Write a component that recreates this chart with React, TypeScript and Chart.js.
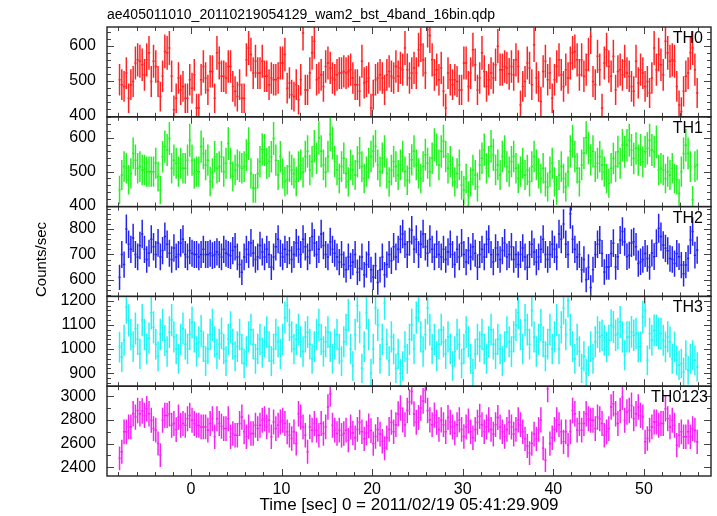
import { useEffect, useRef } from "react";
import { Chart, registerables } from "chart.js";

Chart.register(...registerables);

const TITLE = "ae405011010_20110219054129_wam2_bst_4band_16bin.qdp";
const X_TITLE = "Time [sec] 0 = 2011/02/19 05:41:29.909";
const Y_TITLE = "Counts/sec";
const PANEL_NAMES = ["TH0", "TH1", "TH2", "TH3", "TH0123"];
const X_TICK_LABELS = [0, 10, 20, 30, 40, 50];
const Y_TICK_LABELS = [
  [400, 500, 600],
  [400, 500, 600],
  [600, 700, 800],
  [900, 1000, 1100, 1200],
  [2400, 2600, 2800, 3000],
];

const BIN_START = -7.875;
const BIN_WIDTH = 0.25;
const X_MIN = -9.26;
const X_MAX = 57.4;

const TH0 = [
  503, 489, 484, 522, 450, 489, 498, 551, 560, 556, 546, 517, 560, 580, 498, 556,
  541, 498, 455, 513, 584, 580, 594, 513, 417, 450, 508, 474, 484, 450, 450, 503,
  479, 517, 422, 422, 503, 541, 508, 474, 527, 527, 450, 580, 551, 513, 513, 508,
  541, 541, 484, 470, 455, 489, 450, 450, 560, 594, 575, 522, 556, 522, 522, 556,
  513, 513, 489, 508, 503, 503, 508, 551, 551, 575, 479, 494, 460, 455, 489, 446,
  503, 637, 474, 474, 522, 580, 613, 503, 508, 517, 484, 541, 551, 537, 508, 503,
  517, 522, 522, 527, 522, 527, 532, 508, 489, 489, 470, 556, 494, 498, 508, 422,
  460, 503, 508, 517, 508, 474, 517, 527, 513, 508, 541, 513, 537, 532, 594, 532,
  508, 522, 537, 522, 589, 603, 560, 522, 646, 630, 560, 517, 532, 503, 537, 470,
  422, 522, 503, 489, 503, 498, 474, 474, 551, 551, 484, 522, 589, 546, 474, 508,
  580, 527, 484, 503, 522, 508, 546, 599, 532, 532, 541, 537, 520, 541, 517, 560,
  541, 431, 484, 498, 551, 537, 489, 603, 508, 484, 441, 527, 556, 503, 522, 450,
  503, 541, 560, 517, 484, 532, 508, 551, 580, 584, 560, 517, 560, 513, 532, 575,
  627, 498, 489, 570, 532, 422, 551, 589, 541, 513, 570, 474, 527, 532, 517, 556,
  522, 513, 484, 470, 556, 494, 532, 522, 484, 498, 465, 508, 594, 532, 575, 546,
  517, 613, 580, 556, 560, 556, 484, 431, 412, 470, 513, 522, 580, 594, 532, 465,
];

const TH1 = [
  446, 490, 515, 510, 476, 495, 554, 534, 510, 515, 505, 505, 500, 500, 500, 500,
  525, 486, 446, 544, 574, 564, 598, 510, 534, 525, 500, 525, 510, 510, 534, 593,
  534, 495, 500, 500, 574, 554, 520, 534, 471, 495, 544, 510, 515, 544, 500, 525,
  583, 525, 486, 505, 520, 515, 510, 515, 549, 583, 495, 451, 451, 495, 530, 566,
  564, 525, 530, 544, 598, 534, 490, 544, 495, 471, 476, 515, 505, 495, 471, 515,
  520, 498, 545, 560, 505, 530, 575, 540, 600, 560, 520, 498, 545, 610, 585, 530,
  505, 480, 515, 540, 495, 470, 520, 505, 490, 530, 555, 515, 480, 500, 525, 545,
  560, 575, 520, 500, 540, 560, 495, 470, 505, 530, 515, 490, 520, 545, 500, 475,
  510, 535, 560, 520, 495, 480, 515, 550, 525, 500, 540, 580, 565, 520, 560, 590,
  545, 510, 530, 500, 470, 495, 520, 460, 445, 480, 430, 470, 505, 490, 455, 520,
  540, 565, 510, 530, 575, 550, 505, 520, 490, 545, 560, 515, 500, 530, 545, 510,
  480, 500, 525, 490, 505, 470, 515, 545, 520, 495, 480, 510, 470, 455, 500, 525,
  470, 445, 490, 515, 480, 455, 500, 560, 590, 545, 510, 470, 520, 555, 600, 570,
  535, 560, 515, 525, 544, 520, 500, 480, 466, 510, 539, 515, 559, 525, 578, 559,
  578, 593, 564, 539, 569, 534, 564, 529, 559, 569, 593, 564, 559, 588, 505, 510,
  505, 480, 500, 490, 510, 480, 476, 436, 500, 554, 578, 554, 515, 417, 515, 520,
];

const TH2 = [
  610, 700, 660, 800, 740, 720, 765, 700, 690, 735, 780, 720, 680, 705, 760, 730,
  700, 745, 690, 715, 770, 740, 705, 680, 725, 690, 700, 745, 760, 700, 690, 715,
  705, 700, 700, 690, 700, 720, 700, 700, 705, 695, 700, 710, 700, 690, 720, 705,
  700, 695, 715, 730, 690, 660, 630, 690, 720, 700, 745, 705, 680, 690, 735, 710,
  690, 720, 700, 650, 690, 730, 760, 705, 690, 720, 700, 715, 680, 700, 745, 720,
  700, 760, 730, 690, 715, 770, 745, 700, 720, 780, 735, 700, 690, 750, 720, 705,
  690, 670, 700, 660, 640, 690, 655, 670, 700, 630, 645, 690, 620, 660, 700, 640,
  610, 655, 590, 640, 690, 620, 660, 700, 675, 730, 690, 720, 760, 780, 740, 700,
  750, 795, 720, 760, 700, 740, 780, 730, 705, 760, 720, 690, 740, 700, 690, 720,
  680, 710, 740, 700, 660, 720, 690, 745, 700, 670, 715, 690, 730, 705, 650, 700,
  720, 690, 740, 760, 700, 670, 725, 700, 680, 715, 745, 690, 700, 730, 680, 700,
  660, 700, 725, 690, 650, 700, 740, 710, 670, 690, 720, 760, 700, 680, 700, 740,
  720, 690, 780, 760, 820, 740, 700, 860, 760, 720, 690, 700, 640, 680, 600, 650,
  570, 640, 700, 740, 757, 704, 631, 651, 651, 704, 744, 651, 691, 757, 790, 750,
  691, 697, 744, 750, 730, 664, 671, 680, 704, 684, 651, 706, 691, 744, 803, 770,
  737, 724, 714, 684, 680, 664, 704, 691, 658, 624, 658, 684, 757, 790, 697, 717,
];

const TH3 = [
  1008, 967, 1036, 1174, 1119, 1060, 1010, 1085, 1040, 980, 1120, 1060, 1000, 1045, 1150, 1090,
  1020, 970, 1060, 1100, 1035, 990, 1070, 1120, 1050, 1000, 960, 1040, 1085, 1020, 1000, 1060,
  1110, 1050, 990, 1030, 1075, 1010, 950, 1000, 1060, 1100, 1030, 980, 1020, 1065, 1000, 950,
  1040, 1090, 1020, 970, 1010, 1060, 1000, 940, 990, 1050, 1080, 1020, 960, 1000, 1040, 985,
  1030, 1070, 1010, 950, 1000, 1060, 1030, 980, 1040, 1130, 1180, 1100, 1050, 1000, 1040, 1080,
  1030, 990, 1050, 1070, 1020, 960, 1010, 1060, 1100, 1040, 990, 1030, 1070, 1010, 960, 1020,
  1060, 1000, 950, 1030, 1080, 1140, 1000, 930, 1060, 1180, 1090, 920, 1010, 1150, 1060, 900,
  1000, 1170, 1100, 960, 1040, 1190, 1020, 950, 1050, 1000, 920, 980, 900, 930, 1010, 960,
  1040, 1100, 1000, 1130, 1180, 1050, 990, 1060, 1170, 1080, 1000, 1040, 970, 1020, 1080, 1030,
  980, 1050, 1000, 930, 990, 1060, 1020, 940, 1000, 1070, 1030, 960, 900, 980, 1040, 1010,
  1060, 1000, 960, 1030, 1080, 1020, 980, 1040, 1000, 950, 1010, 1070, 1030, 990, 1050, 1100,
  1150, 1060, 1000, 1120, 1080, 1020, 1160, 1050, 990, 1040, 1100, 1030, 970, 1020, 1080, 1000,
  1050, 1120, 1000, 1090, 1170, 1060, 1200, 1080, 1010, 960, 1040, 990, 920, 970, 900, 950,
  1010, 960, 1030, 1070, 1050, 1057, 1036, 1009, 1036, 1098, 1091, 1057, 1064, 1112, 1050, 974,
  1050, 1050, 1071, 1057, 1064, 1009, 1009, 1133, 1160, 953, 1064, 1036, 1077, 1077, 1064, 1064,
  1036, 1009, 1050, 1029, 960, 1009, 953, 933, 940, 905, 974, 912, 960, 974, 953, 926,
];

const TH0123 = [
  2476, 2531, 2699, 2699, 2741, 2741, 2852, 2824, 2880, 2852, 2875, 2838, 2894, 2852, 2797, 2727,
  2713, 2601, 2504, 2797, 2838, 2838, 2852, 2755, 2769, 2718, 2824, 2755, 2769, 2755, 2810, 2838,
  2797, 2769, 2755, 2755, 2741, 2741, 2741, 2713, 2769, 2810, 2657, 2810, 2769, 2746, 2727, 2727,
  2810, 2657, 2685, 2671, 2671, 2769, 2824, 2699, 2657, 2741, 2685, 2685, 2755, 2727, 2755, 2797,
  2810, 2741, 2797, 2657, 2783, 2727, 2755, 2783, 2797, 2769, 2699, 2671, 2643, 2699, 2601, 2852,
  2824, 2741, 2671, 2531, 2741, 2713, 2769, 2713, 2671, 2769, 2685, 2741, 2908, 3020, 2755, 2713,
  2685, 2713, 2671, 2685, 2713, 2629, 2740, 2690, 2650, 2720, 2780, 2700, 2640, 2690, 2750, 2710,
  2600, 2660, 2720, 2680, 2620, 2560, 2650, 2720, 2780, 2700, 2760, 2850, 2900, 2800, 2760, 2880,
  2950, 3040, 2850, 2780, 2820, 2900, 2960, 3050, 2880, 2800, 2760, 2840, 2780, 2720, 2800, 2760,
  2700, 2820, 2780, 2740, 2690, 2760, 2800, 2720, 2660, 2740, 2790, 2700, 2650, 2720, 2780, 2830,
  2760, 2700, 2740, 2800, 2720, 2680, 2760, 2820, 2740, 2700, 2660, 2720, 2780, 2740, 2680, 2720,
  2800, 2760, 2700, 2640, 2580, 2520, 2600, 2680, 2640, 2720, 2800, 2560, 2460, 3060, 2600, 2650,
  2720, 2800, 2760, 2699, 2615, 2699, 2587, 2699, 2880, 2852, 2713, 2769, 2713, 2769, 2852, 2810,
  2797, 2797, 2727, 2824, 2810, 2769, 2671, 2699, 2727, 2908, 2936, 2852, 2769, 2880, 2992, 2797,
  2866, 2880, 2922, 2810, 2852, 2908, 2838, 2824, 2615, 2643, 2713, 2741, 2783, 2783, 2755, 2769,
  2769, 2894, 2810, 2741, 2797, 2755, 2587, 2671, 2699, 2657, 2657, 2699, 2657, 2727, 2713, 2615,
];

const SERIES = [TH0, TH1, TH2, TH3, TH0123];
const COLORS = ["#ff2424", "#24f024", "#2424f0", "#24f4f4", "#f424f4"];
const Y_MIN = [397, 397, 535, 846, 2327];
const Y_MAX = [654, 662, 888, 1218, 3084];
const Y_MINOR = [20, 20, 20, 20, 100];
const NAME_RIGHT_INSET = [8, 8, 8, 8, 3];

const FONT = "'Liberation Sans', Arial, sans-serif";

const qdpPlugin = {
  id: "qdpPanels",
  afterDatasetsDraw(chart: any) {
    const ctx: CanvasRenderingContext2D = chart.ctx;
    const xs = chart.scales.x;
    const { left, right } = chart.chartArea;
    SERIES.forEach((values, k) => {
      const ys = chart.scales["y" + k];
      const top = ys.top;
      const bottom = ys.bottom;
      const meta = chart.getDatasetMeta(k);
      // error bars (bin width horizontally, Poisson error vertically)
      ctx.save();
      ctx.beginPath();
      ctx.rect(left, top, right - left, bottom - top);
      ctx.clip();
      ctx.strokeStyle = COLORS[k];
      ctx.lineWidth = 1.5;
      ctx.beginPath();
      meta.data.forEach((pt: any, i: number) => {
        const v = values[i];
        const t = BIN_START + i * BIN_WIDTH;
        const err = Math.sqrt(v * BIN_WIDTH) / BIN_WIDTH;
        const x0 = xs.getPixelForValue(t - BIN_WIDTH / 2);
        const x1 = xs.getPixelForValue(t + BIN_WIDTH / 2);
        ctx.moveTo(x0, pt.y);
        ctx.lineTo(x1, pt.y);
        ctx.moveTo(pt.x, ys.getPixelForValue(v - err));
        ctx.lineTo(pt.x, ys.getPixelForValue(v + err));
      });
      ctx.stroke();
      ctx.restore();

      // ticks
      ctx.save();
      ctx.strokeStyle = "#444";
      ctx.lineWidth = 1;
      ctx.beginPath();
      const minor = Y_MINOR[k];
      const majors = Y_TICK_LABELS[k];
      for (let v = Math.ceil(Y_MIN[k] / minor) * minor; v <= Y_MAX[k]; v += minor) {
        const y = Math.round(ys.getPixelForValue(v)) + 0.5;
        const len = majors.includes(v) ? 7 : 4;
        ctx.moveTo(left, y);
        ctx.lineTo(left + len, y);
        ctx.moveTo(right, y);
        ctx.lineTo(right - len, y);
      }
      for (let t = Math.ceil(X_MIN / 2) * 2; t <= X_MAX; t += 2) {
        const x = Math.round(xs.getPixelForValue(t)) + 0.5;
        const len = t % 10 === 0 ? 7 : 4;
        ctx.moveTo(x, top);
        ctx.lineTo(x, top + len);
        ctx.moveTo(x, bottom);
        ctx.lineTo(x, bottom - len);
      }
      ctx.stroke();
      // frame
      ctx.strokeStyle = "#222";
      ctx.lineWidth = 1.4;
      ctx.strokeRect(left, top, right - left, bottom - top);
      // panel name
      ctx.fillStyle = "#000";
      ctx.font = "16px " + FONT;
      ctx.textAlign = "right";
      ctx.textBaseline = "alphabetic";
      ctx.fillText(PANEL_NAMES[k], right - NAME_RIGHT_INSET[k], top + 16);
      ctx.restore();
    });
    // y title
    ctx.save();
    ctx.fillStyle = "#000";
    ctx.font = "15px " + FONT;
    ctx.translate(42, 259.5);
    ctx.rotate(-Math.PI / 2);
    ctx.textAlign = "center";
    ctx.textBaseline = "middle";
    ctx.fillText(Y_TITLE, 0, 0);
    ctx.restore();
  },
};

export default function App() {
  const canvasRef = useRef<HTMLCanvasElement | null>(null);

  useEffect(() => {
    const canvas = canvasRef.current;
    if (!canvas) return;
    const tickFont = { family: FONT, size: 16, weight: "normal" as const };
    const scales: any = {
      x: {
        type: "linear",
        min: X_MIN,
        max: X_MAX,
        grid: { display: false, drawTicks: false },
        border: { display: false },
        afterBuildTicks: (s: any) => {
          s.ticks = X_TICK_LABELS.map((v) => ({ value: v }));
        },
        ticks: {
          color: "#000",
          font: tickFont,
          padding: 4,
          maxRotation: 0,
          autoSkip: false,
          callback: (v: any) => String(v),
        },
        title: {
          display: true,
          text: X_TITLE,
          color: "#000",
          font: { family: FONT, size: 17, weight: "normal" },
          padding: { top: 0, bottom: 0 },
        },
        afterFit: (s: any) => {
          s.height = 40;
        },
      },
    };
    SERIES.forEach((_, k) => {
      scales["y" + k] = {
        type: "linear",
        position: "left",
        stack: "panels",
        stackWeight: 1,
        weight: 10 - k,
        min: Y_MIN[k],
        max: Y_MAX[k],
        grid: { display: false, drawTicks: false },
        border: { display: false },
        afterBuildTicks: (s: any) => {
          s.ticks = Y_TICK_LABELS[k].map((v) => ({ value: v }));
        },
        ticks: {
          padding: 11,
          color: "#000",
          font: tickFont,
          autoSkip: false,
          callback: (v: any) => String(v),
        },
        afterFit: (s: any) => {
          s.width = 107;
        },
      };
    });

    const chart = new Chart(canvas, {
      type: "line",
      data: {
        datasets: SERIES.map((values, k) => ({
          label: PANEL_NAMES[k],
          data: values.map((v, i) => ({ x: BIN_START + i * BIN_WIDTH, y: v })),
          yAxisID: "y" + k,
          showLine: false,
          pointRadius: 0,
          pointHoverRadius: 0,
          borderColor: COLORS[k],
          backgroundColor: COLORS[k],
        })),
      },
      options: {
        animation: false,
        responsive: false,
        devicePixelRatio: 1,
        events: [],
        layout: { padding: { left: 0, right: 6, top: 0, bottom: 0 } },
        plugins: {
          legend: { display: false },
          tooltip: { enabled: false },
          title: {
            display: true,
            text: TITLE,
            align: "start",
            fullSize: false,
            color: "#000",
            font: { family: FONT, size: 14, weight: "normal" },
            padding: { top: 6.5, bottom: 3.7 },
          },
        },
        scales,
      } as any,
      plugins: [qdpPlugin],
    });
    return () => chart.destroy();
  }, []);

  return (
    <div style={{ position: "fixed", left: 0, top: 0, width: 717, height: 516, background: "#fff" }}>
      <canvas ref={canvasRef} width={717} height={516} />
    </div>
  );
}
